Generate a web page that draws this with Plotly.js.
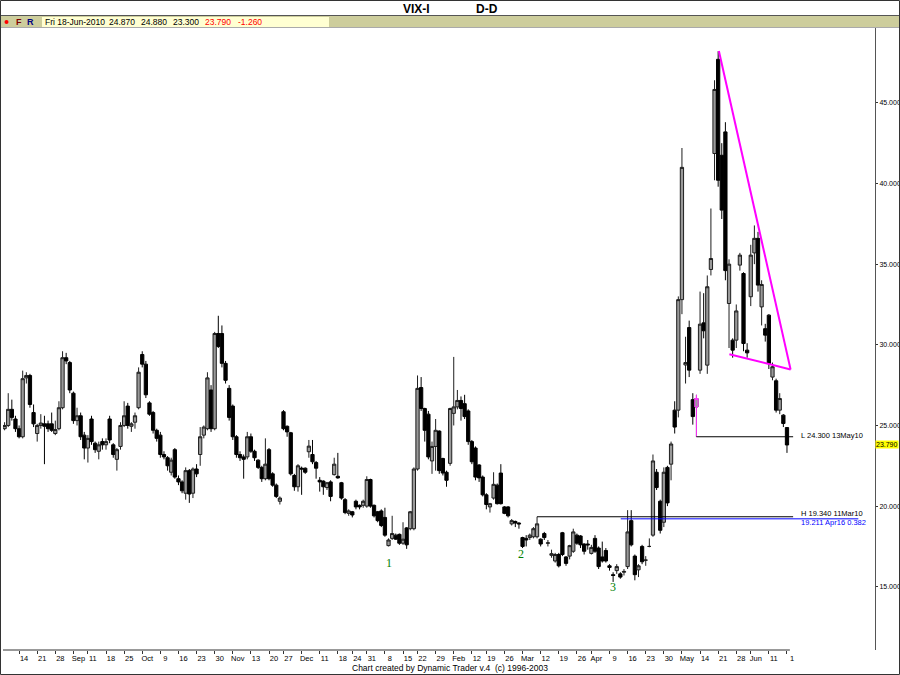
<!DOCTYPE html>
<html><head><meta charset="utf-8">
<script src="https://cdn.plot.ly/plotly-3.0.1.min.js"></script>
<style>html,body{margin:0;padding:0;background:#fff;}#chart{width:900px;height:675px;}</style>
</head><body><div id="chart"></div>
<script>
// ---- daily OHLC, VIX-I, 10-Aug-2009 .. 18-Jun-2010 (one value per trading day) ----
const openP = [
 24.8,25.0,26.0,25.4,24.8,24.3,27.95,28.1,25.8,24.5,
 25.0,25.1,25.1,25.1,24.5,24.8,26.1,29.2,28.9,27.0,
 25.3,25.6,24.4,23.6,25.4,23.9,23.4,24.0,23.8,25.4,
 23.8,22.9,23.7,25.0,26.2,24.95,25.2,26.1,29.4,28.8,
 26.4,25.8,24.7,24.4,23.2,23.0,22.1,23.5,21.7,21.5,
 20.8,22.2,20.8,22.3,23.2,24.4,24.8,27.2,24.8,30.7,
 30.7,28.85,27.3,26.2,24.3,23.2,23.05,23.05,24.3,23.4,
 22.85,22.4,21.7,23.5,22.0,21.3,20.3,25.85,24.95,24.55,
 21.9,21.2,22.35,22.35,23.37,23.2,22.7,21.6,21.55,21.15,
 21.5,21.95,21.85,21.45,20.4,19.55,19.65,20.3,20.05,20.05,
 20.0,21.65,20.05,19.65,19.7,19.3,17.55,18.0,18.2,18.25,
 17.7,18.65,18.6,18.6,22.3,27.35,26.05,25.7,22.8,23.7,
 24.65,22.95,22.1,22.65,25.75,26.15,26.55,26.35,25.9,24.0,
 23.6,22.55,21.8,20.7,19.95,20.5,21.3,22.05,19.95,19.95,
 18.9,19.05,18.95,18.05,18.0,18.05,18.1,18.1,17.95,18.3,
 17.7,16.95,16.6,17.0,18.35,16.85,16.9,17.2,18.2,18.15,
 17.65,17.65,17.07,18.0,17.4,16.85,17.25,16.3,15.75,16.0,
 15.8,15.9,16.25,19.1,16.9,16.05,17.5,16.65,17.5,18.2,
 22.1,20.3,19.0,22.4,22.6,25.95,25.95,32.8,28.75,31.07,
 26.6,26.15,28.43,31.36,28.74,34.67,41.86,47.7,41.75,43.2,
 32.56,30.29,30.29,34.94,34.42,29.67,32.98,35.7,36.6,32.35,
 31.0,31.84,28.0,27.77,25.95,25.64,24.87];
const highP = [
 25.2,27.0,26.6,25.6,25.0,28.4,28.3,28.2,26.3,25.1,
 25.7,25.6,25.3,25.8,25.3,26.5,29.6,29.5,29.0,27.1,
 26.1,25.8,24.6,24.4,25.6,24.0,24.0,24.2,24.2,25.6,
 23.9,23.6,25.2,26.5,26.4,25.2,25.8,28.6,29.6,29.0,
 26.5,25.9,24.8,24.6,23.4,23.1,23.0,23.6,21.9,21.6,
 22.4,22.3,22.4,22.6,24.9,25.0,28.3,27.5,30.8,31.8,
 31.2,29.0,27.5,26.3,24.4,23.4,23.2,24.6,24.5,23.5,
 22.9,22.5,24.2,23.6,22.1,21.4,20.6,25.95,25.0,24.6,
 22.0,22.6,22.45,22.4,24.1,24.1,22.8,21.8,21.6,21.5,
 21.6,23.0,23.3,21.5,20.5,19.8,19.7,20.4,20.1,20.4,
 21.85,21.7,20.1,19.7,19.8,19.9,18.0,19.4,18.3,18.3,
 19.0,18.7,19.7,22.4,28.1,28.0,26.1,25.9,24.0,25.4,
 24.7,23.0,22.2,26.1,29.25,27.2,26.8,26.9,26.0,24.1,
 23.7,22.6,21.9,20.8,20.2,22.1,21.4,22.6,20.0,20.0,
 19.2,19.1,19.0,18.1,18.2,18.3,18.7,19.34,18.0,18.4,
 17.9,17.3,17.1,17.1,18.4,16.9,17.6,18.6,18.3,18.2,
 17.7,17.9,17.6,18.2,17.5,17.8,17.4,16.4,15.9,16.4,
 15.9,16.1,19.75,19.75,17.0,16.4,17.6,16.9,18.0,23.2,
 22.3,20.4,22.4,22.5,24.0,26.5,33.0,42.2,30.5,31.5,
 27.0,26.9,33.3,33.2,34.3,38.45,46.4,48.2,42.5,43.8,
 35.3,30.4,32.5,35.7,34.5,30.1,36.2,37.4,37.0,34.0,
 31.3,31.9,28.9,27.9,27.0,25.7,24.88];
const lowP = [
 24.7,24.9,25.3,24.6,24.2,24.2,27.6,26.1,24.9,24.0,
 24.8,22.6,24.6,24.6,24.4,24.7,26.0,28.8,27.0,25.1,
 25.0,24.1,22.9,22.7,23.8,23.3,22.9,23.5,23.5,23.9,
 23.0,22.2,23.5,24.9,24.8,24.6,24.8,26.0,28.6,26.7,
 25.6,24.5,24.0,23.0,22.9,22.2,21.9,21.7,21.3,20.8,
 20.4,20.2,20.5,21.8,22.5,24.2,24.7,24.6,24.7,29.8,
 28.6,27.6,25.3,24.1,23.0,22.8,21.7,22.9,23.3,22.8,
 22.3,21.5,21.6,21.6,21.2,20.5,20.1,24.7,24.3,21.9,
 20.95,20.9,20.7,22.0,23.0,22.6,21.7,20.9,20.7,21.0,
 20.3,21.9,21.7,20.4,19.5,19.4,19.3,19.8,19.8,19.9,
 19.9,19.9,19.3,19.0,18.7,18.1,17.5,17.9,17.9,17.6,
 17.6,17.35,18.5,18.5,22.2,25.9,24.0,22.9,22.0,22.2,
 22.0,21.9,21.2,22.5,25.0,26.0,25.3,25.4,23.8,22.6,
 21.6,21.5,20.6,19.8,19.6,20.4,20.1,20.1,19.5,19.3,
 18.8,18.7,18.6,17.4,17.5,17.9,18.0,18.0,17.5,17.9,
 17.5,16.8,16.5,16.2,16.9,16.3,16.7,17.1,17.6,17.4,
 17.0,17.3,17.0,17.1,16.1,16.5,16.5,16.0,15.3,15.8,
 15.5,15.7,16.1,17.5,15.4,15.6,16.4,16.3,17.45,18.1,
 21.0,18.3,18.7,20.0,21.6,24.5,25.5,31.9,27.6,28.0,
 25.05,24.3,28.2,30.4,28.2,34.3,40.2,39.8,37.8,34.0,
 29.8,29.2,29.8,34.6,29.6,29.2,32.4,35.0,33.3,31.2,
 30.2,28.5,27.8,25.8,25.7,24.9,23.30];
const closeP = [
 25.0,26.0,25.5,24.8,24.3,27.9,28.1,26.3,25.1,25.0,
 25.15,24.95,24.8,24.7,24.75,26.1,29.2,29.0,27.2,25.3,
 25.6,24.3,23.6,24.2,24.0,23.5,23.8,23.8,24.0,24.1,
 23.2,23.5,25.0,25.6,25.0,25.1,25.6,28.3,28.8,26.9,
 25.7,24.7,24.2,23.2,23.05,22.5,22.85,21.8,21.5,20.95,
 22.2,20.75,22.3,22.0,24.3,24.9,27.95,24.8,30.7,29.9,
 28.85,27.8,25.5,24.3,23.2,23.0,22.9,24.3,23.4,23.0,
 22.4,21.7,22.6,21.7,21.3,20.6,20.5,24.8,24.6,22.0,
 21.2,22.5,22.3,22.1,23.72,22.75,22.35,21.5,21.2,21.45,
 20.6,22.6,21.75,20.5,19.6,19.7,19.45,19.95,19.95,20.3,
 21.65,20.0,19.4,19.1,18.8,18.2,17.9,18.3,17.95,17.7,
 17.95,17.6,19.65,22.3,27.3,26.05,24.7,23.05,23.7,24.7,
 22.2,22.05,21.6,26.05,26.15,26.55,26.05,25.55,24.0,22.75,
 21.8,21.75,20.7,20.1,20.15,21.35,20.15,20.15,19.55,19.4,
 19.1,18.95,18.9,17.5,17.9,18.2,18.6,18.9,17.65,18.05,
 17.72,17.05,17.0,16.3,17.0,16.45,17.55,18.4,17.7,17.6,
 17.2,17.6,17.44,17.2,16.25,16.6,16.6,16.2,15.7,16.25,
 15.6,15.95,18.4,17.6,15.75,16.3,16.55,16.65,17.5,22.8,
 21.15,18.5,22.1,20.2,23.85,24.9,32.8,41.0,28.9,28.43,
 25.55,26.67,31.28,30.87,33.6,35.35,45.83,40.2,38.35,34.6,
 35.0,29.67,32.1,35.56,30.08,29.5,35.56,36.6,33.7,33.74,
 30.6,28.84,28.64,25.95,26.67,25.12,23.79];

// weekly tick positions (trading-day index) and their labels
const tickIdx = [4,9,14,19,23,28,33,38,43,48,53,58,63,68,73,77,82,87,92,96,100,105,110,114,119,
 124,129,133,138,143,148,153,158,162,167,172,177,182,187,192,197,202,206,211,216];
const tickText = ['14','21','28','Sep','11','18','25','Oct','9','16','23','30','Nov','13','20','27','Dec','11','18','24','31','8','15','22','29',
 'Feb','12','19','26','Mar','12','19','26','Apr','9','16','23','30','May','14','21','28','Jun','11','1'];
const priceTicks = [15,20,25,30,35,40,45];

// drawn studies
const markedBar = 191;                       // 13-May-2010 bar drawn in magenta
const triX = [197.2, 217.0, 200.1];          // apex, right vertex, lower-left vertex
const triY = [48.22, 28.47, 29.42];
const levelY = [24.3, 19.34, 19.211];
const levelX0 = [191, 147, 170.1];
const levelX1 = [217.7, 217.7, 235.7];
const levelText = ['L 24.300 13May10', 'H 19.340 11Mar10', '19.211 Apr16 0.382'];
const waveText = ['1','2','3'];
const waveX = [106.1, 142.6, 168.0];
const waveY = [16.47, 17.02, 14.98];
const infoText = ['Fri 18-Jun-2010','24.870','24.880','23.300','23.790','-1.260'];

// ---- layout helpers ----
const W = 900, H = 675, ML = 3, MR = 25, MT = 28, MB = 25;
const PW = W - ML - MR, PH = H - MT - MB;
const px = X => (X - ML) / PW;
const py = Y => (H - MB - Y) / PH;
const idx = closeP.map((_, i) => i);
const FONT = 'Liberation Sans, Arial, sans-serif';

const traces = [
 {type:'candlestick', x: idx, open: openP, high: highP, low: lowP, close: closeP,
  increasing:{line:{color:'#1e1e1e', width:1}, fillcolor:'#999999'},
  decreasing:{line:{color:'#000000', width:1}, fillcolor:'#000000'},
  whiskerwidth:0, hoverinfo:'none', showlegend:false},
 {type:'candlestick', x:[markedBar], open:[openP[markedBar]], high:[highP[markedBar]],
  low:[lowP[markedBar]], close:[closeP[markedBar]],
  increasing:{line:{color:'#ff33ff', width:1}, fillcolor:'#999999'},
  decreasing:{line:{color:'#ff33ff', width:1}, fillcolor:'#999999'},
  whiskerwidth:0, hoverinfo:'none', showlegend:false},
 {type:'scatter', mode:'lines', x:[triX[0], triX[1], null, triX[2], triX[1]],
  y:[triY[0], triY[1], null, triY[2], triY[1]],
  line:{color:'#ff00ff', width:2}, hoverinfo:'skip', showlegend:false}
];
const levelColors = ['#000000','#000000','#0000ff'];
levelY.forEach((v, k) => {
  traces.push({type:'scatter', mode:'lines', x:[levelX0[k], levelX1[k]], y:[v, v],
    line:{color:levelColors[k], width:1}, hoverinfo:'skip', showlegend:false});
});

const annotations = [];
const add = (o) => annotations.push(Object.assign({showarrow:false, xanchor:'left', yanchor:'middle'}, o));
// title bar
add({xref:'paper', yref:'paper', x:px(401), y:py(9), text:'<b>VIX-I</b>', font:{family:FONT, size:12, color:'#000'}});
add({xref:'paper', yref:'paper', x:px(474), y:py(9), text:'<b>D-D</b>', font:{family:FONT, size:12, color:'#000'}});
// info strip
add({xref:'paper', yref:'paper', x:px(14), y:py(22), text:'<b>F</b>', font:{family:FONT, size:9, color:'#800000'}});
add({xref:'paper', yref:'paper', x:px(25), y:py(22), text:'<b>R</b>', font:{family:FONT, size:9, color:'#000080'}});
const infoXpx = [43, 107, 139, 171, 203, 236];
infoText.forEach((t, k) => add({xref:'paper', yref:'paper', x:px(infoXpx[k]), y:py(22), text:t,
  font:{family:FONT, size:8.5, color: k >= 4 ? '#ff0000' : '#000'}}));
// level labels (the two near 19.3 are nudged apart so they stay readable)
const levelDy = [0.05, 0.2, -0.2];
levelText.forEach((t, k) => add({xref:'x', yref:'y', x:219.3, y:levelY[k] + levelDy[k], text:t,
  font:{family:FONT, size:7.5, color:levelColors[k]}}));
// wave labels
waveText.forEach((t, k) => add({xref:'x', yref:'y', x:waveX[k], y:waveY[k], xanchor:'center', text:t,
  font:{family:'Liberation Serif, serif', size:12, color:'#008000'}}));
// last price tag
add({xref:'paper', yref:'y', x:1, y:closeP[closeP.length-1], text:closeP[closeP.length-1].toFixed(3),
  bgcolor:'#ffff00', borderpad:0, font:{family:FONT, size:7, color:'#000'}});
// credit line
add({xref:'paper', yref:'paper', x:px(450), y:py(668), xanchor:'center',
  text:'Chart created by Dynamic Trader v.4  (c) 1996-2003', font:{family:FONT, size:8.5, color:'#000'}});

const shapes = [
 {type:'rect', xref:'paper', yref:'paper', x0:px(0), x1:px(900), y0:py(27), y1:py(16), fillcolor:'#cdcd9c', line:{width:0}, layer:'below'},
 {type:'rect', xref:'paper', yref:'paper', x0:px(42), x1:px(329), y0:py(27), y1:py(17), fillcolor:'#ffffd2', line:{width:0}, layer:'below'},
 {type:'line', xref:'paper', yref:'paper', x0:px(0), x1:px(900), y0:py(15.5), y1:py(15.5), line:{color:'#555', width:1}},
 {type:'line', xref:'paper', yref:'paper', x0:px(0), x1:px(900), y0:py(27.5), y1:py(27.5), line:{color:'#aaa', width:1}},
 {type:'circle', xref:'paper', yref:'paper', x0:px(4.5), x1:px(8.5), y0:py(24), y1:py(20), fillcolor:'#ff0000', line:{width:0}},
 {type:'line', xref:'x', yref:'paper', x0:-0.44, x1:216.8, y0:0, y1:0, line:{color:'#333', width:1}},
 {type:'rect', xref:'paper', yref:'paper', x0:px(0.5), x1:px(899.5), y0:py(674.5), y1:py(0.5), line:{color:'#333', width:1}}
];

const layout = {
  width:W, height:H, margin:{l:ML, r:MR, t:MT, b:MB, pad:0},
  paper_bgcolor:'#ffffff', plot_bgcolor:'#ffffff', showlegend:false, boxgap:0.1, boxgroupgap:0,
  font:{family:FONT, size:8, color:'#000'},
  xaxis:{range:[-0.44, 240.3], tickmode:'array', tickvals:tickIdx, ticktext:tickText,
    ticks:'outside', ticklen:3, tickcolor:'#333', showline:false, showgrid:false, zeroline:false,
    ticklabelshift:5, ticklabelstandoff:-2, tickfont:{family:FONT, size:7.5, color:'#000'},
    rangeslider:{visible:false}, fixedrange:true},
  yaxis:{side:'right', range:[11.08, 49.64], tickmode:'array', tickvals:priceTicks,
    ticktext:priceTicks.map(v => v.toFixed(3)), ticks:'outside', ticklen:2, tickcolor:'#333',
    showline:true, linecolor:'#555', linewidth:1, showgrid:false, zeroline:false,
    tickfont:{family:FONT, size:7, color:'#000'}, fixedrange:true},
  shapes: shapes, annotations: annotations
};
Plotly.newPlot('chart', traces, layout, {displayModeBar:false, staticPlot:true});
</script></body></html>
